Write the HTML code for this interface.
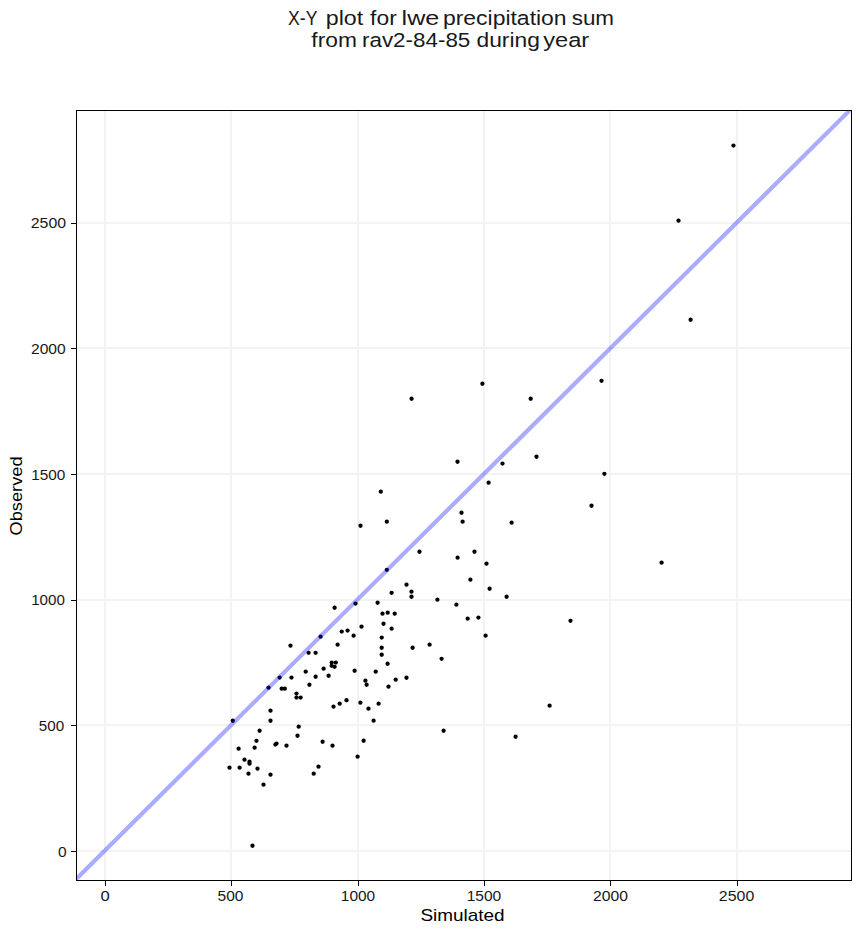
<!DOCTYPE html>
<html><head><meta charset="utf-8"><style>html,body{margin:0;padding:0;background:#fff;}svg{display:block;}</style></head>
<body><svg width="860" height="934" viewBox="0 0 860 934">
<rect x="0" y="0" width="860" height="934" fill="#fff"/>
<rect x="104" y="111" width="2" height="769" fill="#f3f3f3"/>
<rect x="77" y="850" width="774" height="2" fill="#f3f3f3"/>
<rect x="230" y="111" width="2" height="769" fill="#f3f3f3"/>
<rect x="77" y="724" width="774" height="2" fill="#f3f3f3"/>
<rect x="357" y="111" width="2" height="769" fill="#f3f3f3"/>
<rect x="77" y="599" width="774" height="2" fill="#f3f3f3"/>
<rect x="483" y="111" width="2" height="769" fill="#f3f3f3"/>
<rect x="77" y="473" width="774" height="2" fill="#f3f3f3"/>
<rect x="609" y="111" width="2" height="769" fill="#f3f3f3"/>
<rect x="77" y="347" width="774" height="2" fill="#f3f3f3"/>
<rect x="736" y="111" width="2" height="769" fill="#f3f3f3"/>
<rect x="77" y="222" width="774" height="2" fill="#f3f3f3"/>
<g fill="#000"><circle cx="733.45" cy="145.55" r="2.15"/><circle cx="678.50" cy="220.65" r="2.15"/><circle cx="690.60" cy="319.75" r="2.15"/><circle cx="411.60" cy="398.75" r="2.15"/><circle cx="482.40" cy="383.75" r="2.15"/><circle cx="457.50" cy="461.75" r="2.15"/><circle cx="502.50" cy="463.55" r="2.15"/><circle cx="488.60" cy="482.65" r="2.15"/><circle cx="380.80" cy="491.65" r="2.15"/><circle cx="530.70" cy="398.75" r="2.15"/><circle cx="601.50" cy="380.85" r="2.15"/><circle cx="536.50" cy="456.75" r="2.15"/><circle cx="604.40" cy="473.85" r="2.15"/><circle cx="661.60" cy="562.65" r="2.15"/><circle cx="591.50" cy="505.75" r="2.15"/><circle cx="511.60" cy="522.65" r="2.15"/><circle cx="486.50" cy="563.65" r="2.15"/><circle cx="489.60" cy="588.75" r="2.15"/><circle cx="506.60" cy="596.75" r="2.15"/><circle cx="570.50" cy="620.85" r="2.15"/><circle cx="485.60" cy="635.65" r="2.15"/><circle cx="360.50" cy="525.75" r="2.15"/><circle cx="386.80" cy="521.65" r="2.15"/><circle cx="461.50" cy="512.75" r="2.15"/><circle cx="462.60" cy="521.65" r="2.15"/><circle cx="419.50" cy="551.75" r="2.15"/><circle cx="457.60" cy="557.65" r="2.15"/><circle cx="474.50" cy="551.75" r="2.15"/><circle cx="386.80" cy="569.85" r="2.15"/><circle cx="470.40" cy="579.65" r="2.15"/><circle cx="406.50" cy="584.65" r="2.15"/><circle cx="411.50" cy="591.65" r="2.15"/><circle cx="411.50" cy="596.75" r="2.15"/><circle cx="391.60" cy="592.85" r="2.15"/><circle cx="437.40" cy="599.65" r="2.15"/><circle cx="355.50" cy="603.55" r="2.15"/><circle cx="377.60" cy="602.75" r="2.15"/><circle cx="456.40" cy="604.65" r="2.15"/><circle cx="382.50" cy="613.65" r="2.15"/><circle cx="387.70" cy="612.65" r="2.15"/><circle cx="394.70" cy="613.65" r="2.15"/><circle cx="467.70" cy="618.65" r="2.15"/><circle cx="478.40" cy="617.55" r="2.15"/><circle cx="361.50" cy="626.65" r="2.15"/><circle cx="383.50" cy="623.75" r="2.15"/><circle cx="391.60" cy="628.65" r="2.15"/><circle cx="341.70" cy="631.55" r="2.15"/><circle cx="347.60" cy="630.55" r="2.15"/><circle cx="353.60" cy="635.65" r="2.15"/><circle cx="381.70" cy="637.55" r="2.15"/><circle cx="334.60" cy="607.75" r="2.15"/><circle cx="320.60" cy="636.65" r="2.15"/><circle cx="337.60" cy="644.65" r="2.15"/><circle cx="290.50" cy="645.65" r="2.15"/><circle cx="308.60" cy="652.85" r="2.15"/><circle cx="315.60" cy="652.85" r="2.15"/><circle cx="331.70" cy="662.55" r="2.15"/><circle cx="335.80" cy="662.55" r="2.15"/><circle cx="331.70" cy="665.85" r="2.15"/><circle cx="334.60" cy="666.85" r="2.15"/><circle cx="323.60" cy="668.65" r="2.15"/><circle cx="354.60" cy="670.75" r="2.15"/><circle cx="305.70" cy="671.65" r="2.15"/><circle cx="328.60" cy="675.75" r="2.15"/><circle cx="315.60" cy="676.75" r="2.15"/><circle cx="291.50" cy="677.55" r="2.15"/><circle cx="279.60" cy="677.55" r="2.15"/><circle cx="268.50" cy="687.65" r="2.15"/><circle cx="281.70" cy="688.65" r="2.15"/><circle cx="284.80" cy="688.65" r="2.15"/><circle cx="309.40" cy="684.75" r="2.15"/><circle cx="296.50" cy="693.55" r="2.15"/><circle cx="296.50" cy="697.55" r="2.15"/><circle cx="300.60" cy="697.55" r="2.15"/><circle cx="346.50" cy="700.25" r="2.15"/><circle cx="381.70" cy="647.75" r="2.15"/><circle cx="381.70" cy="654.75" r="2.15"/><circle cx="412.60" cy="647.75" r="2.15"/><circle cx="429.60" cy="644.65" r="2.15"/><circle cx="441.60" cy="658.85" r="2.15"/><circle cx="387.60" cy="663.75" r="2.15"/><circle cx="375.70" cy="671.65" r="2.15"/><circle cx="365.40" cy="680.65" r="2.15"/><circle cx="366.60" cy="684.75" r="2.15"/><circle cx="395.70" cy="679.65" r="2.15"/><circle cx="406.50" cy="677.75" r="2.15"/><circle cx="388.50" cy="686.65" r="2.15"/><circle cx="360.40" cy="702.65" r="2.15"/><circle cx="378.60" cy="703.65" r="2.15"/><circle cx="368.50" cy="708.65" r="2.15"/><circle cx="373.60" cy="720.65" r="2.15"/><circle cx="443.60" cy="730.75" r="2.15"/><circle cx="363.60" cy="740.75" r="2.15"/><circle cx="357.60" cy="756.65" r="2.15"/><circle cx="333.50" cy="706.65" r="2.15"/><circle cx="339.70" cy="703.65" r="2.15"/><circle cx="270.50" cy="710.65" r="2.15"/><circle cx="270.50" cy="720.75" r="2.15"/><circle cx="232.80" cy="720.75" r="2.15"/><circle cx="259.60" cy="730.75" r="2.15"/><circle cx="298.70" cy="726.65" r="2.15"/><circle cx="297.50" cy="735.75" r="2.15"/><circle cx="256.50" cy="740.85" r="2.15"/><circle cx="254.60" cy="747.65" r="2.15"/><circle cx="238.60" cy="748.65" r="2.15"/><circle cx="275.40" cy="744.55" r="2.15"/><circle cx="276.50" cy="743.55" r="2.15"/><circle cx="286.50" cy="745.65" r="2.15"/><circle cx="322.60" cy="741.75" r="2.15"/><circle cx="332.50" cy="745.65" r="2.15"/><circle cx="244.50" cy="759.65" r="2.15"/><circle cx="249.50" cy="761.65" r="2.15"/><circle cx="249.50" cy="763.65" r="2.15"/><circle cx="229.50" cy="767.65" r="2.15"/><circle cx="239.60" cy="767.65" r="2.15"/><circle cx="257.50" cy="768.65" r="2.15"/><circle cx="248.50" cy="773.65" r="2.15"/><circle cx="270.50" cy="774.65" r="2.15"/><circle cx="318.50" cy="766.65" r="2.15"/><circle cx="313.70" cy="773.65" r="2.15"/><circle cx="263.50" cy="784.65" r="2.15"/><circle cx="549.60" cy="705.65" r="2.15"/><circle cx="515.60" cy="736.75" r="2.15"/><circle cx="252.50" cy="845.75" r="2.15"/></g>
<clipPath id="ax"><rect x="77" y="111" width="774" height="769"/></clipPath>
<line x1="53.36" y1="901.74" x2="887.60" y2="72.71" stroke="#0000ff" stroke-opacity="0.33" stroke-width="4.2" clip-path="url(#ax)"/>
<g fill="#000">
<rect x="76" y="110" width="1" height="771"/>
<rect x="851" y="110" width="1" height="771"/>
<rect x="76" y="110" width="776" height="1"/>
<rect x="76" y="880" width="776" height="1"/>
<rect x="105" y="881" width="1" height="5"/>
<rect x="71" y="851" width="5" height="1"/>
<rect x="231" y="881" width="1" height="5"/>
<rect x="71" y="725" width="5" height="1"/>
<rect x="358" y="881" width="1" height="5"/>
<rect x="71" y="600" width="5" height="1"/>
<rect x="484" y="881" width="1" height="5"/>
<rect x="71" y="474" width="5" height="1"/>
<rect x="610" y="881" width="1" height="5"/>
<rect x="71" y="348" width="5" height="1"/>
<rect x="737" y="881" width="1" height="5"/>
<rect x="71" y="223" width="5" height="1"/>
</g>
<g font-family="Liberation Sans, sans-serif" fill="#000"><text x="302.77" y="24.74" text-anchor="middle" font-size="20.1" textLength="29.38" lengthAdjust="spacingAndGlyphs" fill="#191919">X-Y</text><text x="344.51" y="24.74" text-anchor="middle" font-size="20.1" textLength="37.50" lengthAdjust="spacingAndGlyphs" fill="#191919">plot</text><text x="383.45" y="24.74" text-anchor="middle" font-size="20.1" textLength="26.64" lengthAdjust="spacingAndGlyphs" fill="#191919">for</text><text x="420.48" y="24.74" text-anchor="middle" font-size="20.1" textLength="37.73" lengthAdjust="spacingAndGlyphs" fill="#191919">lwe</text><text x="504.78" y="24.74" text-anchor="middle" font-size="20.1" textLength="123.73" lengthAdjust="spacingAndGlyphs" fill="#191919">precipitation</text><text x="592.86" y="24.74" text-anchor="middle" font-size="20.1" textLength="42.40" lengthAdjust="spacingAndGlyphs" fill="#191919">sum</text><text x="334.17" y="46.80" text-anchor="middle" font-size="20.1" textLength="45.56" lengthAdjust="spacingAndGlyphs" fill="#191919">from</text><text x="416.15" y="46.80" text-anchor="middle" font-size="20.1" textLength="108.38" lengthAdjust="spacingAndGlyphs" fill="#191919">rav2-84-85</text><text x="508.17" y="46.80" text-anchor="middle" font-size="20.1" textLength="63.35" lengthAdjust="spacingAndGlyphs" fill="#191919">during</text><text x="566.20" y="46.80" text-anchor="middle" font-size="20.1" textLength="46.01" lengthAdjust="spacingAndGlyphs" fill="#191919">year</text><text x="105.12" y="901.00" text-anchor="middle" font-size="13.89" textLength="9.23" lengthAdjust="spacingAndGlyphs" fill="#171717">0</text><text x="230.55" y="901.00" text-anchor="middle" font-size="13.89" textLength="25.86" lengthAdjust="spacingAndGlyphs" fill="#171717">500</text><text x="358.00" y="901.00" text-anchor="middle" font-size="13.89" textLength="34.28" lengthAdjust="spacingAndGlyphs" fill="#171717">1000</text><text x="483.90" y="901.00" text-anchor="middle" font-size="13.89" textLength="34.50" lengthAdjust="spacingAndGlyphs" fill="#171717">1500</text><text x="610.51" y="901.00" text-anchor="middle" font-size="13.89" textLength="34.94" lengthAdjust="spacingAndGlyphs" fill="#171717">2000</text><text x="736.56" y="901.00" text-anchor="middle" font-size="13.89" textLength="35.35" lengthAdjust="spacingAndGlyphs" fill="#171717">2500</text><text x="62.33" y="857.00" text-anchor="middle" font-size="13.89" textLength="8.64" lengthAdjust="spacingAndGlyphs" fill="#171717">0</text><text x="51.54" y="731.00" text-anchor="middle" font-size="13.89" textLength="25.40" lengthAdjust="spacingAndGlyphs" fill="#171717">500</text><text x="48.05" y="605.00" text-anchor="middle" font-size="13.89" textLength="33.68" lengthAdjust="spacingAndGlyphs" fill="#171717">1000</text><text x="48.21" y="480.00" text-anchor="middle" font-size="13.89" textLength="34.12" lengthAdjust="spacingAndGlyphs" fill="#171717">1500</text><text x="48.33" y="354.00" text-anchor="middle" font-size="13.89" textLength="34.73" lengthAdjust="spacingAndGlyphs" fill="#171717">2000</text><text x="48.40" y="228.00" text-anchor="middle" font-size="13.89" textLength="35.27" lengthAdjust="spacingAndGlyphs" fill="#171717">2500</text><text x="462.55" y="921.10" text-anchor="middle" font-size="17.0" textLength="84.27" lengthAdjust="spacingAndGlyphs" fill="#000">Simulated</text><text transform="translate(21.67,496.00) rotate(-90)" x="0.00" y="0.00" text-anchor="middle" font-size="17.0" textLength="79.10" lengthAdjust="spacingAndGlyphs" fill="#000">Observed</text></g>
</svg></body></html>
